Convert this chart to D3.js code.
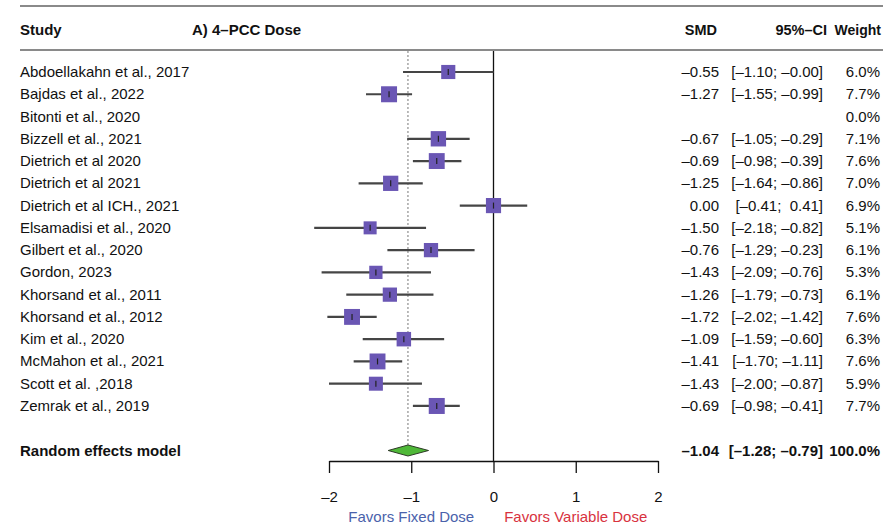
<!DOCTYPE html>
<html>
<head>
<meta charset="utf-8">
<script src="https://cdn.jsdelivr.net/npm/d3@7"></script>
<style>
  body { margin: 0; background: #fff; }
  svg text { font-family: "Liberation Sans", Arial, sans-serif; white-space: pre; }
</style>
</head>
<body>
<svg id="chart" width="883" height="525"></svg>
<script>
// study data
const studies = [
  "Abdoellakahn et al., 2017", "Bajdas et al., 2022", "Bitonti et al., 2020",
  "Bizzell et al., 2021", "Dietrich et al 2020", "Dietrich et al 2021",
  "Dietrich et al ICH., 2021", "Elsamadisi et al., 2020", "Gilbert et al., 2020",
  "Gordon, 2023", "Khorsand et al., 2011", "Khorsand et al., 2012",
  "Kim et al., 2020", "McMahon et al., 2021", "Scott et al. ,2018", "Zemrak et al., 2019"
];
const smd   = [-0.55, -1.27, NaN, -0.67, -0.69, -1.25, 0.00, -1.50, -0.76, -1.43, -1.26, -1.72, -1.09, -1.41, -1.43, -0.69];
const lower = [-1.10, -1.55, NaN, -1.05, -0.98, -1.64, -0.41, -2.18, -1.29, -2.09, -1.79, -2.02, -1.59, -1.70, -2.00, -0.98];
const upper = [-0.00, -0.99, NaN, -0.29, -0.39, -0.86, 0.41, -0.82, -0.23, -0.76, -0.73, -1.42, -0.60, -1.11, -0.87, -0.41];
const weight = [6.0, 7.7, 0.0, 7.1, 7.6, 7.0, 6.9, 5.1, 6.1, 5.3, 6.1, 7.6, 6.3, 7.6, 5.9, 7.7];

const pooled = { label: "Random effects model", est: -1.04, lo: -1.28, hi: -0.79, w: 100.0 };
const xTicks = [-2, -1, 0, 1, 2];

const svg = d3.select("#chart");
const x = d3.scaleLinear().domain([-2, 2]).range([329, 658]);
// row 17 is the pooled estimate (one blank row before it)
const y = d3.scaleLinear().domain([0, 17]).range([72, 450.5]);
const box = d3.scaleSqrt().domain([0, 7.7]).range([0, 16]);

const fs = 15;
const minus = v => (v < 0 || Object.is(v, -0) ? "\u2013" : "") + Math.abs(v).toFixed(2);
const fmtCI = (lo, hi) => "[" + minus(lo) + "; " + (hi >= 0 && !Object.is(hi, -0) ? " " : "") + minus(hi) + "]";

// header rules
svg.append("line").attr("x1", 20).attr("x2", 883).attr("y1", 6).attr("y2", 6)
  .attr("stroke", "#8a8a8a").attr("stroke-width", 2.2);
svg.append("line").attr("x1", 20).attr("x2", 883).attr("y1", 50).attr("y2", 50)
  .attr("stroke", "#8a8a8a").attr("stroke-width", 2.2);

const head = svg.append("g").attr("font-weight", "bold").attr("font-size", fs).attr("fill", "#111");
head.append("text").attr("x", 20).attr("y", 35).text("Study");
head.append("text").attr("x", 192).attr("y", 35).text("A) 4\u2013PCC Dose");
head.append("text").attr("x", 717).attr("y", 35).attr("text-anchor", "end").attr("font-size", 14.5).text("SMD");
head.append("text").attr("x", 827).attr("y", 35).attr("text-anchor", "end").attr("font-size", 14.5).text("95%\u2013CI");
head.append("text").attr("x", 881).attr("y", 35).attr("text-anchor", "end").attr("font-size", 14).text("Weight");

// reference lines
svg.append("line").attr("x1", x(0)).attr("x2", x(0)).attr("y1", 51).attr("y2", 461)
  .attr("stroke", "#111").attr("stroke-width", 1.3);
svg.append("line").attr("x1", x(pooled.est)).attr("x2", x(pooled.est)).attr("y1", 51).attr("y2", 445)
  .attr("stroke", "#777").attr("stroke-width", 1).attr("stroke-dasharray", "2,2");

const rows = studies.map((s, i) => ({ s, est: smd[i], lo: lower[i], hi: upper[i], w: weight[i], i }));

const txt = svg.append("g").attr("font-size", fs).attr("fill", "#111");
rows.forEach(d => {
  const yy = y(d.i) + 5;
  txt.append("text").attr("x", 20).attr("y", yy).text(d.s);
  if (!isNaN(d.est)) {
    txt.append("text").attr("x", 719).attr("y", yy).attr("text-anchor", "end").text(minus(d.est));
    txt.append("text").attr("x", 823).attr("y", yy).attr("text-anchor", "end").text(fmtCI(d.lo, d.hi));
  }
  txt.append("text").attr("x", 880).attr("y", yy).attr("text-anchor", "end").text(d.w.toFixed(1) + "%");
});

// CI lines and boxes
const marks = svg.append("g");
rows.filter(d => !isNaN(d.est)).forEach(d => {
  const cy = y(d.i);
  marks.append("line").attr("x1", x(d.lo)).attr("x2", x(d.hi)).attr("y1", cy).attr("y2", cy)
    .attr("stroke", "#454545").attr("stroke-width", 2.2);
  const s = box(d.w);
  marks.append("rect").attr("x", x(d.est) - s / 2).attr("y", cy - s / 2)
    .attr("width", s).attr("height", s).attr("fill", "#6a56b4");
  marks.append("line").attr("x1", x(d.est)).attr("x2", x(d.est)).attr("y1", cy - 3).attr("y2", cy + 3)
    .attr("stroke", "#222").attr("stroke-width", 1.2);
});

// pooled row
const py = y(17);
const pt = svg.append("g").attr("font-size", fs).attr("font-weight", "bold").attr("fill", "#111");
pt.append("text").attr("x", 20).attr("y", py + 5).text(pooled.label);
pt.append("text").attr("x", 719).attr("y", py + 5).attr("text-anchor", "end").text(minus(pooled.est));
pt.append("text").attr("x", 823).attr("y", py + 5).attr("text-anchor", "end").text(fmtCI(pooled.lo, pooled.hi));
pt.append("text").attr("x", 880).attr("y", py + 5).attr("text-anchor", "end").text(pooled.w.toFixed(1) + "%");

svg.append("path")
  .attr("d", `M${x(pooled.lo)},${py}L${x(pooled.est)},${py - 5.5}L${x(pooled.hi)},${py}L${x(pooled.est)},${py + 5.5}Z`)
  .attr("fill", "#4fb838").attr("stroke", "#2d3a26").attr("stroke-width", 1);

// axis
const axis = svg.append("g").attr("transform", "translate(0,461)")
  .call(d3.axisBottom(x).tickValues(xTicks).tickSize(12).tickSizeOuter(0).tickPadding(18)
    .tickFormat(v => (v < 0 ? "\u2013" : "") + Math.abs(v)));
axis.select(".domain").attr("stroke", "#111").attr("stroke-width", 1.3);
axis.selectAll(".tick line").attr("stroke", "#111").attr("stroke-width", 1.3);
axis.selectAll("text").attr("font-size", fs).attr("fill", "#111")
  .attr("font-family", "Liberation Sans, Arial, sans-serif");

svg.append("text").attr("x", x(-1)).attr("y", 522).attr("text-anchor", "middle")
  .attr("font-size", fs).attr("fill", "#4a62ab").text("Favors Fixed Dose");
svg.append("text").attr("x", x(1)).attr("y", 522).attr("text-anchor", "middle")
  .attr("font-size", fs).attr("fill", "#d8323e").text("Favors Variable Dose");
</script>
</body>
</html>
